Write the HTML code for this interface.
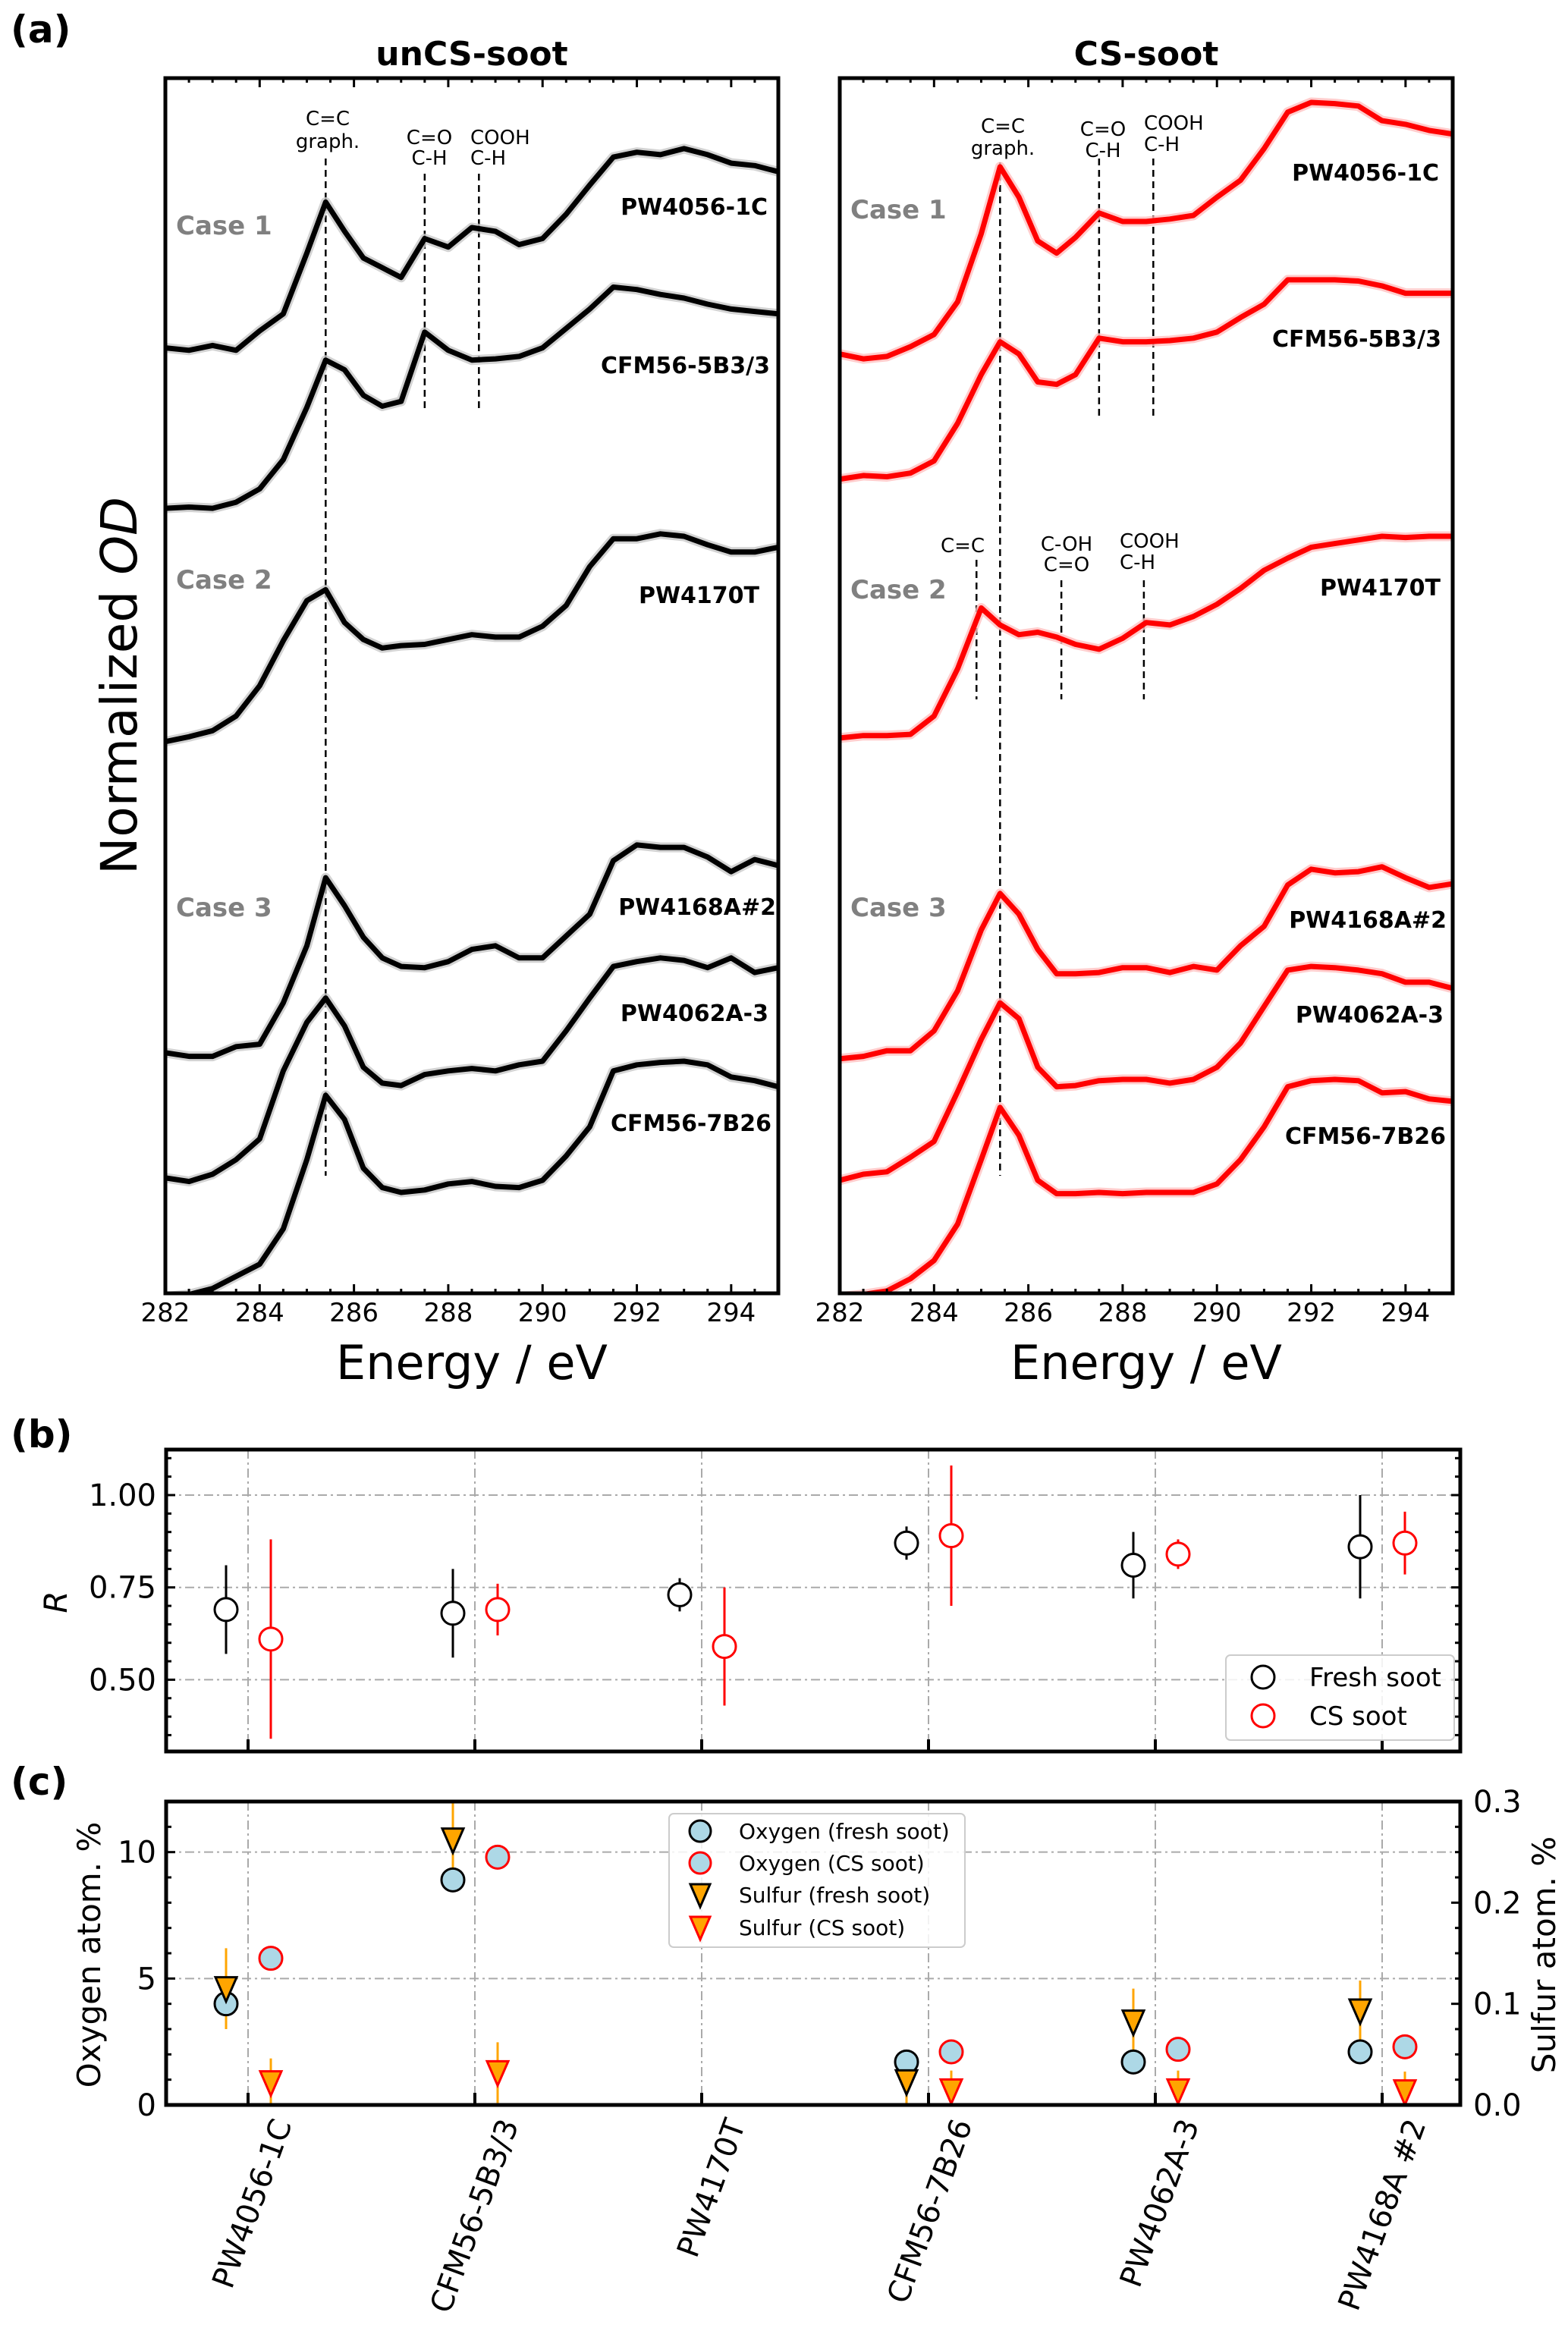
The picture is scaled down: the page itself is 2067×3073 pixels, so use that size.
<!DOCTYPE html>
<html><head><meta charset="utf-8"><style>
html,body{margin:0;padding:0;background:#fff;}
svg text{font-family:"DejaVu Sans","Liberation Sans",sans-serif;}
</style></head><body>
<svg id="fig" xmlns="http://www.w3.org/2000/svg" width="2067" height="3068" viewBox="0 0 2067 3068">
<rect width="2067" height="3068" fill="#fff"/>
<g id="specL"></g>
<g id="specR"></g>
<g id="panelB"></g>
<g id="panelC"></g>
</svg>
<script>
const energy=[282,282.5,283,283.5,284,284.5,285,285.4,285.8,286.2,286.6,287,287.5,288,288.5,289,289.5,290,290.5,291,291.5,292,292.5,293,293.5,294,294.5,295];
const L_PW4056=[77.8,77.6,78.0,77.6,79.2,80.6,85.6,89.8,87.4,85.2,84.4,83.6,86.8,86.1,87.7,87.4,86.3,86.8,88.8,91.2,93.5,93.9,93.7,94.2,93.7,93.0,92.8,92.3];
const L_CFM5B=[64.6,64.7,64.6,65.1,66.2,68.6,72.9,76.8,76.0,73.9,73.0,73.4,79.1,77.6,76.8,76.9,77.1,77.8,79.4,81.0,82.8,82.6,82.2,81.9,81.4,81.0,80.8,80.6];
const L_PW4170=[45.4,45.8,46.3,47.5,50.0,53.7,57.0,57.9,55.2,53.8,53.1,53.3,53.4,53.8,54.2,54.0,54.0,54.9,56.6,59.8,62.1,62.1,62.5,62.3,61.6,61.0,61.0,61.4];
const L_PW4168=[19.8,19.5,19.5,20.3,20.5,23.9,28.6,34.2,31.9,29.3,27.6,26.9,26.8,27.3,28.3,28.6,27.6,27.6,29.4,31.2,35.6,36.9,36.7,36.7,35.9,34.7,35.7,35.2];
const L_PW4062=[9.5,9.2,9.8,11.0,12.7,18.3,22.3,24.3,22.0,18.6,17.3,17.1,18.0,18.3,18.5,18.3,18.8,19.1,21.6,24.3,26.9,27.3,27.6,27.4,26.8,27.6,26.4,26.8];
const L_CFM7B=[-0.3,-0.1,0.4,1.4,2.4,5.3,11.0,16.3,14.3,10.3,8.7,8.3,8.5,9.0,9.2,8.8,8.7,9.3,11.3,13.7,18.3,18.8,19.0,19.1,18.8,17.8,17.5,17.0];
const R_PW4056=[77.3,76.9,77.1,77.9,78.9,81.6,87.2,92.7,90.2,86.6,85.6,86.9,88.9,88.2,88.2,88.4,88.7,90.2,91.6,94.2,97.2,98.0,97.9,97.7,96.5,96.2,95.7,95.4];
const R_CFM5B=[67.0,67.3,67.2,67.5,68.5,71.6,75.6,78.3,77.3,75.0,74.8,75.6,78.6,78.3,78.3,78.4,78.6,79.1,80.3,81.4,83.4,83.4,83.4,83.3,82.9,82.3,82.3,82.3];
const R_PW4170=[45.7,45.9,45.9,46.0,47.5,51.4,56.4,55.0,54.2,54.4,54.0,53.4,53.0,53.9,55.2,55.0,55.7,56.7,58.0,59.5,60.5,61.4,61.7,62.0,62.3,62.2,62.3,62.3];
const R_PW4168=[19.3,19.5,19.96,19.96,21.6,24.9,29.9,32.9,31.2,28.3,26.3,26.3,26.4,26.8,26.8,26.4,26.9,26.6,28.6,30.2,33.6,34.9,34.6,34.7,35.1,34.2,33.4,33.7];
const R_PW4062=[9.3,9.8,10.0,11.2,12.5,16.6,20.9,23.9,22.6,18.6,17.0,17.1,17.5,17.6,17.6,17.3,17.6,18.6,20.6,23.6,26.6,26.9,26.8,26.6,26.3,25.6,25.6,25.1];
const R_CFM7B=[-0.3,-0.1,0.2,1.2,2.7,5.7,11.0,15.3,13.0,9.3,8.2,8.2,8.3,8.2,8.3,8.3,8.3,9.0,11.0,13.7,17.0,17.5,17.6,17.5,16.5,16.6,16.0,15.8];
const categories=["PW4056-1C","CFM56-5B3/3","PW4170T","CFM56-7B26","PW4062A-3","PW4168A #2"];
const rFresh=[0.69,0.68,0.73,0.87,0.81,0.86];
const rFreshErr=[0.12,0.12,0.045,0.045,0.09,0.14];
const rCS=[0.61,0.69,0.59,0.89,0.84,0.87];
const rCSErr=[0.27,0.07,0.16,0.19,0.04,0.085];
const oFresh=[4.0,8.9,null,1.7,1.7,2.1];
const oCS=[5.8,9.8,null,2.1,2.2,2.3];
const sFresh=[0.115,0.262,null,0.023,0.082,0.093];
const sFreshErr=[0.04,0.05,null,0.03,0.033,0.03];
const sCS=[0.022,0.032,null,0.014,0.014,0.013];
const sCSErr=[0.024,0.03,null,0.02,0.02,0.02];
const rTicks=[0.50,0.75,1.00];
const oTicks=[0,5,10];
const sTicks=[0.0,0.1,0.2,0.3];
const eTicks=[282,284,286,288,290,292,294];

const NS="http://www.w3.org/2000/svg";
function mk(parent,tag,attrs,txt){const e=document.createElementNS(NS,tag);for(const k in attrs)e.setAttribute(k,attrs[k]);if(txt!==undefined)e.textContent=txt;parent.appendChild(e);return e;}
const fig=document.getElementById('fig');

// panel labels
let t;
t=mk(fig,'text',{x:14,y:56,'font-size':50,'font-weight':'bold'},'(a)');


t=mk(fig,'text',{x:14,y:1908,'font-size':50,'font-weight':'bold'},'(b)');


t=mk(fig,'text',{x:14,y:2366,'font-size':50,'font-weight':'bold'},'(c)');


t=mk(fig,'text',{x:180,y:904,'font-size':66,'text-anchor':'middle',transform:'rotate(-90 180 904)'});


t.innerHTML='Normalized <tspan font-style="italic">OD</tspan>';

function spectrum(gid,x0,title,curves,main,band,ann,cases){
  const g=document.getElementById(gid);
  const x1=x0+808, yT=103, yB=1705;
  const sx=e=>x0+(e-282)*(x1-x0)/13;
  const sy=v=>yB-v*(yB-yT)/100;
  let e;
  e=mk(g,'text',{x:(x0+x1)/2,y:86,'font-size':44,'font-weight':'bold','text-anchor':'middle'},title);
  
  
  const clip=mk(g,'clipPath',{id:'clip'+gid});
  mk(clip,'rect',{x:x0,y:yT,width:x1-x0,height:yB-yT});
  const cg=mk(g,'g',{'clip-path':'url(#clip'+gid+')'});
  // dashed lines
  ann.lines.forEach(l=>{
    const d=mk(cg,'line',{x1:sx(l[0]),x2:sx(l[0]),y1:l[1],y2:l[2],stroke:'#000','stroke-width':2.5,'stroke-dasharray':'9,6'});
    
    
  });
  curves.forEach(c=>{
    const pts=energy.map((en,i)=>sx(en).toFixed(1)+','+sy(c.v[i]).toFixed(1)).join(' ');
    const b=mk(cg,'polyline',{points:pts,fill:'none',stroke:band,'stroke-width':13,'stroke-linejoin':'round','stroke-opacity':0.8});
    
    
    const p=mk(cg,'polyline',{points:pts,fill:'none',stroke:main,'stroke-width':7,'stroke-linejoin':'round'});
    
    
    const lb=mk(g,'text',{x:c.lx,y:c.ly+11,'font-size':30,'font-weight':'bold','text-anchor':'end'},c.label);
    
    
  });
  ann.texts.forEach(a=>{
    const tx=mk(g,'text',{x:a[0],y:a[1]+9,'font-size':26,'text-anchor':a[3]||'middle'},a[2]);
    
    
  });
  cases.forEach(cs=>{
    const tx=mk(g,'text',{x:x0+14,y:cs[1]+12,'font-size':34,'font-weight':'bold',fill:'#808080'},cs[0]);
    
    
  });
  // ticks
  for(let en=282;en<=295.001;en+=0.5){
    const major=Math.abs(en/2-Math.round(en/2))<1e-6;
    const len=major?12:6;
    mk(g,'line',{x1:sx(en),x2:sx(en),y1:yB,y2:yB-len,stroke:'#000','stroke-width':3});
    mk(g,'line',{x1:sx(en),x2:sx(en),y1:yT,y2:yT+len,stroke:'#000','stroke-width':3});
  }
  eTicks.forEach(en=>{
    const tl=mk(g,'text',{x:sx(en),y:1742,'font-size':34,'text-anchor':'middle'},String(en));
    
    
  });
  const fr=mk(g,'rect',{x:x0,y:yT,width:x1-x0,height:yB-yT,fill:'none',stroke:'#000','stroke-width':5});
  
  
  const xt=mk(g,'text',{x:(x0+x1)/2,y:1818,'font-size':62,'text-anchor':'middle'},'Energy / eV');
  
  
}
spectrum('specL',218,'unCS-soot',[
 {n:'pw4056-1c',v:L_PW4056,label:'PW4056-1C',lx:1012,ly:272},
 {n:'cfm56-5b3',v:L_CFM5B,label:'CFM56-5B3/3',lx:1015,ly:481},
 {n:'pw4170t',v:L_PW4170,label:'PW4170T',lx:1001,ly:784},
 {n:'pw4168a',v:L_PW4168,label:'PW4168A#2',lx:1023,ly:1195},
 {n:'pw4062a',v:L_PW4062,label:'PW4062A-3',lx:1013,ly:1335},
 {n:'cfm56-7b26',v:L_CFM7B,label:'CFM56-7B26',lx:1017,ly:1480}],'#000','#c8c8c8',
 {lines:[[285.4,209,1550],[287.5,229,540],[288.65,229,540]],
  texts:[[432,156,'C=C'],[432,186,'graph.'],[566,181,'C=O'],[566,208,'C-H'],[620,181,'COOH','start'],[620,208,'C-H','start']]},
 [['Case 1',297],['Case 2',764],['Case 3',1196]]);
spectrum('specR',1107,'CS-soot',[
 {n:'pw4056-1c',v:R_PW4056,label:'PW4056-1C',lx:1897,ly:227},
 {n:'cfm56-5b3',v:R_CFM5B,label:'CFM56-5B3/3',lx:1900,ly:446},
 {n:'pw4170t',v:R_PW4170,label:'PW4170T',lx:1899,ly:774},
 {n:'pw4168a',v:R_PW4168,label:'PW4168A#2',lx:1907,ly:1212},
 {n:'pw4062a',v:R_PW4062,label:'PW4062A-3',lx:1903,ly:1337},
 {n:'cfm56-7b26',v:R_CFM7B,label:'CFM56-7B26',lx:1906,ly:1497}],'#ff0000','#ffc0c0',
 {lines:[[285.4,214,1550],[287.5,209,552],[288.65,209,552],[284.9,738,922],[286.7,765,922],[288.45,765,922]],
  texts:[[1322,166,'C=C'],[1322,195,'graph.'],[1454,170,'C=O'],[1454,198,'C-H'],[1508,162,'COOH','start'],[1508,190,'C-H','start'],
         [1269,719,'C=C'],[1406,717,'C-OH'],[1406,744,'C=O'],[1476,713,'COOH','start'],[1476,741,'C-H','start']]},
 [['Case 1',276],['Case 2',777],['Case 3',1196]]);

// shared category axis
const cx0=327, cstep=299;
const cxs=i=>cx0+i*cstep;
const GX0=219,GX1=1925;
function grid(g,yT,yB){
  categories.forEach((c,i)=>{const l=mk(g,'line',{x1:cxs(i),x2:cxs(i),y1:yT,y2:yB,stroke:'#aaa','stroke-width':2,'stroke-dasharray':'12,5,3,5'});
    
    });
}
// Panel b
(function(){
  const g=document.getElementById('panelB');
  const yT=1911,yB=2309;
  const sy=v=>1971+(1-v)*486.8;
  grid(g,yT,yB);
  rTicks.forEach(v=>{const l=mk(g,'line',{x1:GX0,x2:GX1,y1:sy(v),y2:sy(v),stroke:'#aaa','stroke-width':2,'stroke-dasharray':'12,5,3,5'});
    
    
    const tl=mk(g,'text',{x:206,y:sy(v)+14,'font-size':40,'text-anchor':'end'},v.toFixed(2));
    
    });
  for(let v=0.35;v<=1.1201;v+=0.05){const maj=rTicks.some(r=>Math.abs(r-v)<1e-6);const len=maj?12:7;
    mk(g,'line',{x1:GX0,x2:GX0+len,y1:sy(v),y2:sy(v),stroke:'#000','stroke-width':3});
    mk(g,'line',{x1:GX1,x2:GX1-len,y1:sy(v),y2:sy(v),stroke:'#000','stroke-width':3});}
  categories.forEach((c,i)=>mk(g,'line',{x1:cxs(i),x2:cxs(i),y1:yB,y2:yB-16,stroke:'#000','stroke-width':4}));
  const series=[[rFresh,rFreshErr,'#000',-29,'fresh'],[rCS,rCSErr,'#ff0000',30,'cs']];
  series.forEach(s=>{s[0].forEach((v,i)=>{
    const x=cxs(i)+s[3];
    const eb=mk(g,'line',{x1:x,x2:x,y1:sy(v+s[1][i]),y2:sy(v-s[1][i]),stroke:s[2],'stroke-width':3});
    
    
    const m=mk(g,'circle',{cx:x,cy:sy(v),r:15,fill:'#fff',stroke:s[2],'stroke-width':3});
    
    
  });});
  const fr=mk(g,'rect',{x:GX0,y:yT,width:GX1-GX0,height:yB-yT,fill:'none',stroke:'#000','stroke-width':5});
  
  
  const yt=mk(g,'text',{x:88,y:2112,'font-size':42,'font-style':'italic','text-anchor':'middle',transform:'rotate(-90 88 2112)'},'R');
  
  
  const lg=mk(g,'g',{});
  
  
  mk(lg,'rect',{x:1616,y:2182,width:301,height:112,rx:6,fill:'#fff','fill-opacity':0.85,stroke:'#ccc','stroke-width':2});
  [['Fresh soot','#000',2211],['CS soot','#ff0000',2262]].forEach(e=>{
    mk(lg,'circle',{cx:1665,cy:e[2],r:15,fill:'#fff',stroke:e[1],'stroke-width':3});
    const tx=mk(lg,'text',{x:1726,y:e[2]+12,'font-size':34},e[0]);
    
    
  });
})();
// Panel c
(function(){
  const g=document.getElementById('panelC');
  const yT=2375,yB=2775;
  const so=v=>yB-v*(yB-yT)/12;
  const ss=v=>yB-v*(yB-yT)/0.3;
  grid(g,yT,yB);
  [5,10].forEach(v=>{const l=mk(g,'line',{x1:GX0,x2:GX1,y1:so(v),y2:so(v),stroke:'#aaa','stroke-width':2,'stroke-dasharray':'12,5,3,5'});
    
    });
  oTicks.forEach(v=>{const tl=mk(g,'text',{x:206,y:so(v)+14,'font-size':40,'text-anchor':'end'},String(v));
    
    });
  for(let v=0;v<=12;v+=1){const len=(v%5===0)?12:7;mk(g,'line',{x1:GX0,x2:GX0+len,y1:so(v),y2:so(v),stroke:'#000','stroke-width':3});}
  sTicks.forEach(v=>{const tl=mk(g,'text',{x:1942,y:ss(v)+14,'font-size':40},v.toFixed(1));
    
    });
  for(let k=0;k<=12;k++){const v=k*0.025;const len=(k%4===0)?12:7;mk(g,'line',{x1:GX1,x2:GX1-len,y1:ss(v),y2:ss(v),stroke:'#000','stroke-width':3});}
  categories.forEach((c,i)=>{mk(g,'line',{x1:cxs(i),x2:cxs(i),y1:yB,y2:yB-16,stroke:'#000','stroke-width':4});
    const tx=mk(g,'text',{x:cxs(i)+58,y:2800,'font-size':40,'text-anchor':'end',transform:'rotate(-70 '+(cxs(i)+58)+' 2800)'},c);
    
    });
  const cg=mk(g,'clipPath',{id:'clipC'});mk(cg,'rect',{x:GX0,y:yT,width:GX1-GX0,height:yB-yT});
  const pg=mk(g,'g',{'clip-path':'url(#clipC)'});
  function tri(x,y,stroke){return mk(pg,'polygon',{points:(x-14)+','+(y-15)+' '+(x+14)+','+(y-15)+' '+x+','+(y+17),fill:'#ffa500',stroke:stroke,'stroke-width':3});}
  [[sFresh,sFreshErr,'#000',-29,'fresh'],[sCS,sCSErr,'#ff0000',30,'cs']].forEach(s=>{s[0].forEach((v,i)=>{
    if(v===null)return;const x=cxs(i)+s[3];
    const eb=mk(pg,'line',{x1:x,x2:x,y1:ss(v+s[1][i]),y2:ss(Math.max(0,v-s[1][i])),stroke:'#ffa500','stroke-width':3});
    
    });});
  [[oFresh,'#000',-29,'fresh'],[oCS,'#ff0000',30,'cs']].forEach(s=>{s[0].forEach((v,i)=>{
    if(v===null)return;
    const m=mk(pg,'circle',{cx:cxs(i)+s[2],cy:so(v),r:15,fill:'#add8e6',stroke:s[1],'stroke-width':3});
    
    });});
  [[sFresh,'#000',-29,'fresh'],[sCS,'#ff0000',30,'cs']].forEach(s=>{s[0].forEach((v,i)=>{
    if(v===null)return;
    const m=tri(cxs(i)+s[2],ss(v),s[1]);
    
    });});
  const fr=mk(g,'rect',{x:GX0,y:yT,width:GX1-GX0,height:yB-yT,fill:'none',stroke:'#000','stroke-width':5});
  
  
  let yt=mk(g,'text',{x:132,y:2577,'font-size':42,'text-anchor':'middle',transform:'rotate(-90 132 2577)'},'Oxygen atom. %');
  
  
  yt=mk(g,'text',{x:2050,y:2577,'font-size':42,'text-anchor':'middle',transform:'rotate(-90 2050 2577)'},'Sulfur atom. %');
  
  
  const lg=mk(g,'g',{});
  
  
  mk(lg,'rect',{x:882,y:2391,width:390,height:176,rx:6,fill:'#fff','fill-opacity':0.85,stroke:'#ccc','stroke-width':2});
  const ents=[['Oxygen (fresh soot)','c','#000',2414],['Oxygen (CS soot)','c','#ff0000',2456],['Sulfur (fresh soot)','t','#000',2498],['Sulfur (CS soot)','t','#ff0000',2541]];
  ents.forEach(e=>{
    if(e[1]==='c')mk(lg,'circle',{cx:923,cy:e[3],r:14,fill:'#add8e6',stroke:e[2],'stroke-width':3});
    else mk(lg,'polygon',{points:(923-13)+','+(e[3]-14)+' '+(923+13)+','+(e[3]-14)+' 923,'+(e[3]+16),fill:'#ffa500',stroke:e[2],'stroke-width':3});
    const tx=mk(lg,'text',{x:974,y:e[3]+10,'font-size':28},e[0]);
    
    
  });
})();
</script>
</body></html>
